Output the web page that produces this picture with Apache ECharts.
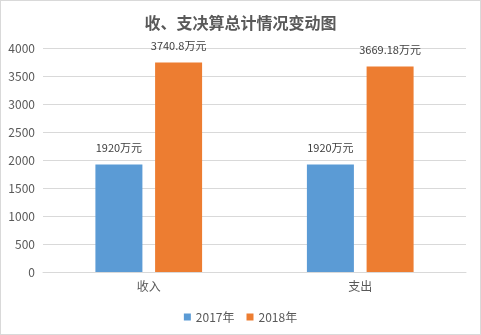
<!DOCTYPE html>
<html>
<head>
<meta charset="utf-8">
<script src="https://cdn.jsdelivr.net/npm/echarts@6/dist/echarts.min.js"></script>
<style>
  html, body { margin: 0; padding: 0; background: #fff; }
  #chart { width: 479px; height: 333px; border: 1px solid #d9d9d9; }
</style>
</head>
<body>
<div id="chart"></div>
<script>
// Budget totals by category, in 万元
const categories = ['收入', '支出'];
const seriesNames = ['2017年', '2018年'];
const values2017 = [1920, 1920];
const values2018 = [3740.8, 3669.18];
const yTicks = { min: 0, max: 4000, interval: 500 };

const font = 'Microsoft YaHei, "Noto Sans CJK SC", sans-serif';
const chart = echarts.init(document.getElementById('chart'), null, { renderer: 'canvas' });

const labelStyle = {
  show: true,
  position: 'top',
  distance: 11,
  color: '#404040',
  fontSize: 11,
  fontFamily: font,
  formatter: p => p.value + '万元'
};

chart.setOption({
  animation: false,
  textStyle: { fontFamily: font },
  title: {
    text: '收、支决算总计情况变动图',
    left: 'center',
    top: 9,
    textStyle: { fontSize: 16, fontWeight: 'bold', color: '#595959', fontFamily: font }
  },
  legend: {
    bottom: 6,
    left: 'center',
    itemWidth: 7,
    itemHeight: 7,
    itemGap: 12,
    icon: 'rect',
    textStyle: { fontSize: 12, color: '#595959', fontFamily: font },
    data: seriesNames
  },
  grid: { left: 42, right: 14, top: 47, bottom: 62, containLabel: false },
  xAxis: {
    type: 'category',
    data: categories,
    axisLine: { lineStyle: { color: '#d9d9d9' } },
    axisTick: { show: false },
    axisLabel: { color: '#595959', fontSize: 12, margin: 8 }
  },
  yAxis: {
    type: 'value',
    min: yTicks.min,
    max: yTicks.max,
    interval: yTicks.interval,
    axisLine: { show: false },
    axisTick: { show: false },
    axisLabel: { color: '#595959', fontSize: 12, margin: 8, formatter: v => String(v) },
    splitLine: { lineStyle: { color: '#d9d9d9' } }
  },
  series: [
    {
      name: seriesNames[0],
      type: 'bar',
      data: values2017,
      barWidth: 47,
      barGap: '27%',
      itemStyle: { color: '#5b9bd5' },
      label: labelStyle
    },
    {
      name: seriesNames[1],
      type: 'bar',
      data: values2018,
      barWidth: 47,
      itemStyle: { color: '#ed7d31' },
      label: labelStyle
    }
  ]
});
</script>
</body>
</html>
